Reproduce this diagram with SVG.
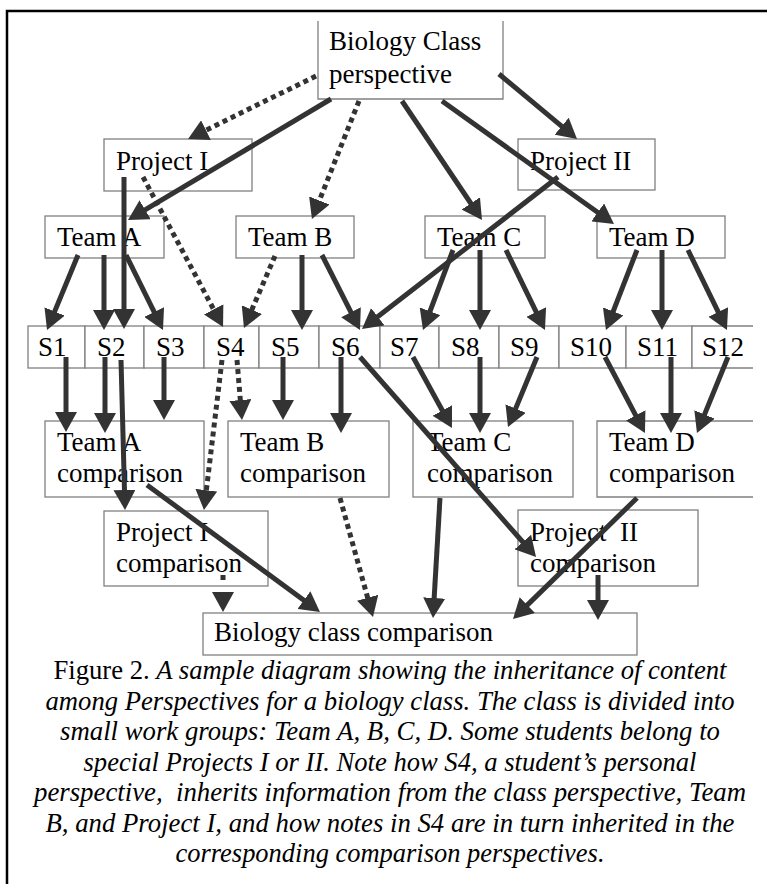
<svg xmlns="http://www.w3.org/2000/svg" width="767" height="884" viewBox="0 0 767 884">
<defs>
<style>
.box{fill:#fff;stroke:#808080;stroke-width:1.3}
.lbl{font-family:"Liberation Serif","Times New Roman",serif;font-size:27px;fill:#000}
.cap{font-family:"Liberation Serif","Times New Roman",serif;font-size:26.5px;fill:#000;text-anchor:middle}
.it{font-style:italic}
.c{stroke:#333;stroke-width:5;fill:none;marker-end:url(#ah)}
.d{stroke-dasharray:5 4}
</style>
<marker id="ah" viewBox="0 0 20 22" markerWidth="20" markerHeight="22" refX="8" refY="11" orient="auto" markerUnits="userSpaceOnUse">
<path d="M0,0 L20,11 L0,22 Z" fill="#333"/>
</marker>
</defs>
<rect width="767" height="884" fill="#fff"/>
<path d="M7,884 V11 H767" fill="none" stroke="#000" stroke-width="2.5"/>

<g id="bio-class">
<path class="box" d="M318,21 V99 H503 V21"/>
<text class="lbl" x="329" y="50">Biology Class</text>
<text class="lbl" x="329" y="83">perspective</text>
</g>
<g id="project1"><rect class="box" x="104" y="139" width="148" height="52"/><text class="lbl" x="116" y="170">Project I</text></g>
<g id="project2"><rect class="box" x="518" y="139" width="137" height="51"/><text class="lbl" x="530" y="170">Project II</text></g>
<g id="teamA"><rect class="box" x="45" y="216" width="119" height="42"/><text class="lbl" x="57" y="246">Team A</text></g>
<g id="teamB"><rect class="box" x="236" y="216" width="118" height="42"/><text class="lbl" x="248" y="246">Team B</text></g>
<g id="teamC"><rect class="box" x="425" y="216" width="120" height="42"/><text class="lbl" x="437" y="246">Team C</text></g>
<g id="teamD"><rect class="box" x="597" y="216" width="128" height="42"/><text class="lbl" x="609" y="246">Team D</text></g>

<g id="s1"><rect class="box" x="28" y="326" width="57" height="42"/><text class="lbl" x="38" y="356">S1</text></g>
<g id="s2"><rect class="box" x="85" y="326" width="59" height="42"/><text class="lbl" x="97" y="356">S2</text></g>
<g id="s3"><rect class="box" x="144" y="326" width="60" height="42"/><text class="lbl" x="156" y="356">S3</text></g>
<g id="s4"><rect class="box" x="204" y="326" width="55" height="42"/><text class="lbl" x="216" y="356">S4</text></g>
<g id="s5"><rect class="box" x="259" y="326" width="60" height="42"/><text class="lbl" x="271" y="356">S5</text></g>
<g id="s6"><rect class="box" x="319" y="326" width="61" height="42"/><text class="lbl" x="331" y="356">S6</text></g>
<g id="s7"><rect class="box" x="380" y="326" width="59" height="42"/><text class="lbl" x="390" y="356">S7</text></g>
<g id="s8"><rect class="box" x="439" y="326" width="60" height="42"/><text class="lbl" x="451" y="356">S8</text></g>
<g id="s9"><rect class="box" x="499" y="326" width="60" height="42"/><text class="lbl" x="510" y="356">S9</text></g>
<g id="s10"><rect class="box" x="559" y="326" width="67" height="42"/><text class="lbl" x="570" y="356">S10</text></g>
<g id="s11"><rect class="box" x="626" y="326" width="66" height="42"/><text class="lbl" x="637" y="356">S11</text></g>
<g id="s12"><path class="box" d="M753,326 H692 V368 H753"/><text class="lbl" x="702" y="356">S12</text></g>

<g id="teamA-comp"><rect class="box" x="45" y="421" width="159" height="76"/><text class="lbl" x="57" y="451">Team A</text><text class="lbl" x="57" y="482">comparison</text></g>
<g id="teamB-comp"><rect class="box" x="228" y="421" width="161" height="76"/><text class="lbl" x="240" y="451">Team B</text><text class="lbl" x="240" y="482">comparison</text></g>
<g id="teamC-comp"><rect class="box" x="413" y="421" width="160" height="76"/><text class="lbl" x="427" y="451">Team C</text><text class="lbl" x="427" y="482">comparison</text></g>
<g id="teamD-comp"><path class="box" d="M753,421 H597 V497 H753"/><text class="lbl" x="609" y="451">Team D</text><text class="lbl" x="609" y="482">comparison</text></g>
<g id="project1-comp"><rect class="box" x="104" y="511" width="164" height="75"/><text class="lbl" x="116" y="541">Project I</text><text class="lbl" x="116" y="572">comparison</text></g>
<g id="project2-comp"><rect class="box" x="518" y="510" width="180" height="76"/><text class="lbl" x="530" y="541" xml:space="preserve">Project  II</text><text class="lbl" x="530" y="572">comparison</text></g>
<g id="bio-comp"><rect class="box" x="203" y="613" width="434" height="42"/><text class="lbl" x="214" y="641">Biology class comparison</text></g>

<g id="connectors">
<line class="c d" x1="316" y1="76" x2="198.8" y2="133.7"/>
<line class="c" x1="331" y1="99" x2="138.3" y2="213.9"/>
<line class="c d" x1="359" y1="101" x2="316.4" y2="207.9"/>
<line class="c" x1="402" y1="101" x2="475.3" y2="210"/>
<line class="c" x1="442" y1="101" x2="604.2" y2="217"/>
<line class="c" x1="499" y1="74" x2="567.8" y2="131.3"/>
<line class="c" x1="124" y1="177" x2="124" y2="317"/>
<line class="c d" x1="143" y1="177" x2="217.4" y2="316.4"/>
<line class="c d" x1="275" y1="256" x2="248.7" y2="317"/>
<line class="c" x1="302" y1="255" x2="302" y2="318"/>
<line class="c" x1="322" y1="255" x2="354.6" y2="319.3"/>
<line class="c" x1="558" y1="177" x2="371.5" y2="321.6"/>
<line class="c" x1="78" y1="255" x2="51.6" y2="318.9"/>
<line class="c" x1="104" y1="255" x2="104" y2="318"/>
<line class="c" x1="126" y1="255" x2="157.7" y2="319.2"/>
<line class="c" x1="453" y1="250" x2="427.2" y2="318.8"/>
<line class="c" x1="480" y1="250" x2="480" y2="318"/>
<line class="c" x1="506" y1="250" x2="539.7" y2="319.2"/>
<line class="c" x1="637" y1="250" x2="610.3" y2="318.8"/>
<line class="c" x1="662" y1="250" x2="662" y2="318"/>
<line class="c" x1="688" y1="250" x2="721.7" y2="319.2"/>
<line class="c" x1="66" y1="357" x2="66" y2="420"/>
<line class="c" x1="105" y1="357" x2="105" y2="421"/>
<line class="c" x1="121" y1="360" x2="124.7" y2="498"/>
<line class="c" x1="164" y1="357" x2="164" y2="408"/>
<line class="c d" x1="237" y1="360" x2="241" y2="408"/>
<line class="c d" x1="222" y1="360" x2="205.4" y2="498.1"/>
<line class="c" x1="283" y1="357" x2="283" y2="408"/>
<line class="c" x1="341" y1="357" x2="341" y2="421"/>
<line class="c" x1="360" y1="357" x2="528.1" y2="548"/>
<line class="c" x1="413" y1="357" x2="446.2" y2="417.5"/>
<line class="c" x1="480" y1="357" x2="480" y2="421"/>
<line class="c" x1="537" y1="357" x2="512.6" y2="415.9"/>
<line class="c" x1="605" y1="357" x2="639.4" y2="422.4"/>
<line class="c" x1="671" y1="357" x2="671" y2="421"/>
<line class="c" x1="728" y1="357" x2="701.5" y2="421.9"/>
<line class="c" x1="147" y1="485" x2="310.3" y2="604.9"/>
<line class="c d" x1="340" y1="498" x2="369.8" y2="605.4"/>
<line class="c" x1="223" y1="575" x2="223" y2="600" stroke-dasharray="5 12"/>
<line class="c" x1="440" y1="498" x2="433.7" y2="606"/>
<line class="c" x1="637" y1="498" x2="521.6" y2="610.6"/>
<line class="c" x1="598" y1="575" x2="598" y2="608"/>
</g>

<g id="caption">
<text class="cap" x="390" y="679" textLength="673" lengthAdjust="spacingAndGlyphs">Figure 2. <tspan class="it">A sample diagram showing the inheritance of content</tspan></text>
<text class="cap it" x="390" y="709.5" textLength="689" lengthAdjust="spacingAndGlyphs">among Perspectives for a biology class. The class is divided into</text>
<text class="cap it" x="390" y="740" textLength="660" lengthAdjust="spacingAndGlyphs">small work groups: Team A, B, C, D. Some students belong to</text>
<text class="cap it" x="390" y="770.5" textLength="613" lengthAdjust="spacingAndGlyphs">special Projects I or II. Note how S4, a student’s personal</text>
<text class="cap it" x="390" y="801" textLength="712" lengthAdjust="spacingAndGlyphs" xml:space="preserve">perspective,  inherits information from the class perspective, Team</text>
<text class="cap it" x="390" y="831.5" textLength="689" lengthAdjust="spacingAndGlyphs">B, and Project I, and how notes in S4 are in turn inherited in the</text>
<text class="cap it" x="390" y="862" textLength="429" lengthAdjust="spacingAndGlyphs">corresponding comparison perspectives.</text>
</g>
</svg>
